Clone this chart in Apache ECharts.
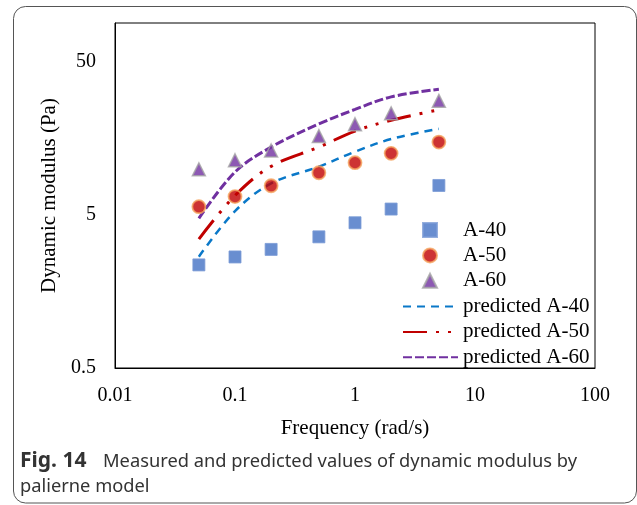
<!DOCTYPE html>
<html><head><meta charset="utf-8">
<script src="https://cdn.jsdelivr.net/npm/echarts@6/dist/echarts.min.js"></script>
<style>html,body{margin:0;padding:0;background:#fff}#c{width:637px;height:505px}</style>
</head><body><div id="c"></div>
<script>
// Frequency (rad/s)
const freq = [0.05, 0.1, 0.2, 0.5, 1, 2, 5];
// Measured dynamic modulus (Pa)
const measA40 = [2.36, 2.66, 2.98, 3.6, 4.45, 5.47, 7.8];
const measA50 = [5.67, 6.6, 7.77, 9.45, 11.0, 12.65, 15.0];
const measA60 = [9.95, 11.4, 13.2, 16.4, 19.6, 23.1, 27.9];
// Palierne model predictions (Pa)
const predA40 = [2.67, 5.3, 8.05, 10.35, 12.97, 15.7, 18.3];
const predA50 = [3.48, 6.7, 10.4, 13.9, 17.7, 20.8, 24.4];
const predA60 = [4.75, 9.55, 13.9, 19.7, 24.5, 29.6, 33.2];
// Axis ticks
const xTicks = [0.01, 0.1, 1, 10, 100];
const yTicks = [0.5, 5, 50];
const measNames = ['A-40', 'A-50', 'A-60'];
const predNames = ['predicted A-40', 'predicted A-50', 'predicted A-60'];

const pairs = (ys) => freq.map((f, i) => [f, ys[i]]);
const serif = 'Liberation Serif';
const legendText = {fontFamily: serif, fontSize: 21, color: '#000', lineHeight: 21};

const chart = echarts.init(document.getElementById('c'), null, {renderer: 'canvas'});
chart.setOption({
  backgroundColor: '#fff',
  animation: false,
  grid: {left: 115, right: 42, top: 23, bottom: 137, show: true, borderColor: '#000', borderWidth: 1, backgroundColor: 'transparent'},
  xAxis: {
    type: 'log', logBase: 10, min: xTicks[0], max: xTicks[xTicks.length - 1],
    name: 'Frequency (rad/s)', nameLocation: 'middle', nameGap: 50,
    nameTextStyle: {fontFamily: serif, fontSize: 21, color: '#000'},
    axisLine: {show: true, lineStyle: {color: '#000', width: 1}},
    axisTick: {show: false},
    splitLine: {show: false},
    axisLabel: {fontFamily: serif, fontSize: 20, color: '#000', margin: 18,
      customValues: xTicks,
      formatter: (v) => String(+(+v).toPrecision(6))}
  },
  yAxis: {
    type: 'log', logBase: 10, min: 0.5, max: 90,
    name: 'Dynamic modulus (Pa)', nameLocation: 'middle', nameGap: 45,
    nameTextStyle: {fontFamily: serif, fontSize: 21, color: '#000'},
    axisLine: {show: true, lineStyle: {color: '#000', width: 1}},
    axisTick: {show: false},
    splitLine: {show: false},
    axisLabel: {fontFamily: serif, fontSize: 20, color: '#000', margin: 19,
      customValues: yTicks,
      formatter: (v) => String(+(+v).toPrecision(6))}
  },
  legend: [
    {
      orient: 'vertical', left: 422, top: 219.5, padding: 0,
      itemWidth: 14, itemHeight: 14, itemGap: 4.4,
      textStyle: Object.assign({padding: [0, 0, 0, 21]}, legendText),
      data: measNames
    },
    {
      orient: 'vertical', left: 402, top: 296, padding: 0,
      itemWidth: 55, itemHeight: 14, itemGap: 4.4,
      textStyle: legendText,
      data: predNames.map((n) => ({name: n, itemStyle: {color: 'rgba(0,0,0,0)', borderColor: 'rgba(0,0,0,0)', borderWidth: 0, opacity: 0}}))
    }
  ],
  series: [
    {name: measNames[0], type: 'scatter', data: pairs(measA40), symbol: 'rect', symbolSize: 12,
      itemStyle: {color: '#4472C4', borderColor: '#7B9BD6', borderWidth: 1}, z: 3},
    {name: measNames[1], type: 'scatter', data: pairs(measA50), symbol: 'circle', symbolSize: 13,
      itemStyle: {color: '#C00000', borderColor: '#F5A35C', borderWidth: 1.8}, z: 3},
    {name: measNames[2], type: 'scatter', data: pairs(measA60), symbol: 'triangle', symbolSize: 13,
      itemStyle: {color: '#7030A0', borderColor: '#A5A5A5', borderWidth: 1.5}, z: 3},
    {name: predNames[0], type: 'line', data: pairs(predA40), symbol: 'none', showSymbol: false, smooth: 0.35,
      itemStyle: {color: '#0A78C8'},
      lineStyle: {color: '#0A78C8', width: 2.5, type: [8, 6]}, z: 2},
    {name: predNames[1], type: 'line', data: pairs(predA50), symbol: 'none', showSymbol: false, smooth: 0.35,
      itemStyle: {color: '#C00000'},
      lineStyle: {color: '#C00000', width: 3, type: [24, 9, 3, 9, 3, 9]}, z: 2},
    {name: predNames[2], type: 'line', data: pairs(predA60), symbol: 'none', showSymbol: false, smooth: 0.35,
      itemStyle: {color: '#7030A0'},
      lineStyle: {color: '#7030A0', width: 3, type: [9, 3]}, z: 2}
  ],
  graphic: [
    {type: 'rect', silent: true, shape: {x: 13.5, y: 6.5, width: 623, height: 496.5, r: 12},
      style: {fill: 'none', stroke: '#555', lineWidth: 1}},
    {type: 'text', left: 20, top: 449, silent: true,
      style: {text: 'Fig. 14', fontFamily: 'Noto Sans', fontWeight: 'bold', fontSize: 21, fill: '#333', lineHeight: 25}},
    {type: 'text', left: 103, top: 449.5, silent: true,
      style: {text: 'Measured and predicted values of dynamic modulus by', fontFamily: 'Noto Sans', fontSize: 18.3, fill: '#333', lineHeight: 25}},
    {type: 'text', left: 20, top: 474.5, silent: true,
      style: {text: 'palierne model', fontFamily: 'Noto Sans', fontSize: 18.3, fill: '#333', lineHeight: 25}}
  ]
});
</script></body></html>
